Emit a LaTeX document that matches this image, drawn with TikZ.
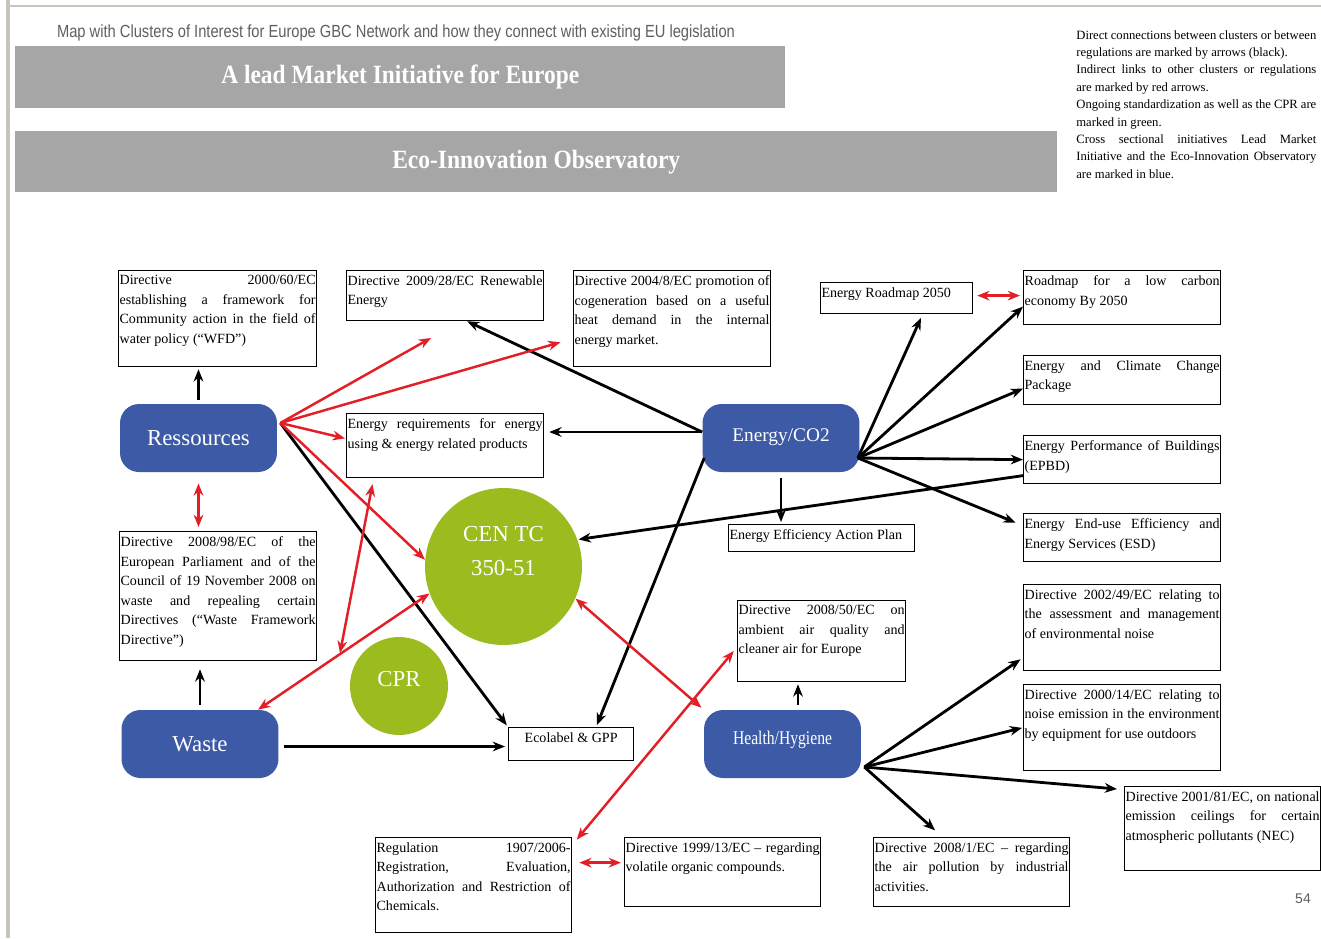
\documentclass[tikz,border=0pt]{standalone}
\usepackage{fontspec}
\setmainfont{Liberation Serif}
\newfontfamily\headfont{Liberation Sans}
\usepackage{graphicx}
\usetikzlibrary{positioning, arrows.meta}
\definecolor{clusterblue}{RGB}{60,90,165}
\definecolor{cengreen}{RGB}{155,187,30}
\definecolor{linkred}{RGB}{228,30,38}
\definecolor{bargray}{RGB}{166,166,166}
\definecolor{headgray}{RGB}{95,95,95}
\definecolor{framegray}{RGB}{200,196,186}
\newlength{\pxu}
\setlength{\pxu}{0.02cm}
\newcommand{\boxfont}{\fontsize{8}{11.1}\selectfont}
\newcommand{\regtext}[3]{\parbox[c][\dimexpr#2\pxu-10\pxu\relax][t]{\dimexpr#1\pxu-2\pxu\relax}{\boxfont #3}}
\tikzset{
	reg/.style= {
		rectangle,
		draw,
		line width=0.7pt,
		anchor=north west,
		inner xsep=\pxu,
		inner ysep=5\pxu
	},
	cluster/.style= {
		rectangle,
		rounded corners=0.38cm,
		fill=clusterblue,
		text=white,
		minimum width=3.14cm,
		minimum height=1.36cm,
		font=\fontsize{13}{15}\selectfont
	},
	standard/.style= {
		circle,
		fill=cengreen,
		text=white,
		inner sep=0,
		align=center,
		font=\fontsize{13}{19.4}\selectfont
	},
	bar/.style= {
		rectangle,
		fill=bargray,
		text=white,
		anchor=north west,
		font=\fontsize{15}{17}\selectfont\bfseries
	},
	link/.style= {
		-{Stealth[length=7pt, width=5.5pt]},
		line width=1.6pt
	},
	rlink/.style= {
		-{Stealth[length=7pt, width=5.5pt]},
		linkred,
		line width=1.4pt
	},
	rboth/.style= {
		{Stealth[length=7pt, width=5.5pt]}-{Stealth[length=7pt, width=5.5pt]},
		linkred,
		line width=1.4pt
	},
}

\begin{document}
\begin{tikzpicture}[x=0.02cm, y=-0.02cm]
	
	\fill[white] (0,0) rectangle (1321,938);
	\useasboundingbox (0,0) rectangle (1321,938);
	\draw[framegray, line width=0.08cm] (8,0) -- (8,938);
	\draw[framegray, line width=0.04cm] (8,6) -- (1321,6);
	
	\node (title)[text=headgray] at (396,33) {\resizebox{13.56cm}{\height}{\headfont\fontsize{10}{12}\selectfont Map with Clusters of Interest for Europe GBC Network and how they connect with existing EU legislation}};
	\node (lmi)[bar, minimum width=15.4cm, minimum height=1.24cm] at (15,46) {\resizebox{7.16cm}{\height}{A lead Market Initiative for Europe}};
	\node (eio)[bar, minimum width=20.84cm, minimum height=1.22cm] at (15,131) {\resizebox{5.76cm}{\height}{Eco-Innovation Observatory}};
	
	\node (legend)[anchor=north west, inner sep=0, text width=4.8cm, align=justify, font=\fontsize{7.2}{9.9}\selectfont] at (1076,30) {%
		Direct connections between clusters or between\linebreak regulations are marked by arrows (black).\par
		Indirect links to other clusters or regulations\linebreak are marked by red arrows.\par
		Ongoing standardization as well as the CPR are\linebreak marked in green.\par
		Cross sectional initiatives Lead Market\linebreak Initiative and the Eco-Innovation Observatory\linebreak are marked in blue.};
	
	\node (wfd)[reg] at (118,270) {\regtext{198}{96}{Directive 2000/60/EC\linebreak establishing a framework for\linebreak Community action in the field of\linebreak water policy (“WFD”)}};
	\node (rend)[reg] at (346,270) {\regtext{197}{50}{Directive 2009/28/EC Renewable\linebreak Energy}};
	\node (chp)[reg] at (573,270) {\regtext{197}{96}{Directive 2004/8/EC promotion of\linebreak cogeneration based on a useful\linebreak heat demand in the internal\linebreak energy market.}};
	\node (rm)[reg] at (820,282) {\regtext{152}{31}{Energy Roadmap 2050}};
	\node (lc)[reg] at (1023,270) {\regtext{197}{54}{Roadmap for a low carbon\linebreak economy By 2050}};
	\node (eccp)[reg] at (1023,355) {\regtext{197}{49}{Energy and Climate Change\linebreak Package}};
	\node (epbd)[reg] at (1023,435) {\regtext{197}{48}{Energy Performance of Buildings\linebreak (EPBD)}};
	\node (esd)[reg] at (1023,513) {\regtext{197}{48}{Energy End-use Efficiency and\linebreak Energy Services (ESD)}};
	\node (erp)[reg] at (346,413) {\regtext{197}{64}{Energy requirements for energy\linebreak using \& energy related products}};
	\node (eeap)[reg] at (728,524) {\regtext{186}{27}{Energy Efficiency Action Plan}};
	\node (wfw)[reg] at (119,531) {\regtext{197}{129}{Directive 2008/98/EC of the\linebreak European Parliament and of the\linebreak Council of 19 November 2008 on\linebreak waste and repealing certain\linebreak Directives (“Waste Framework\linebreak Directive”)}};
	\node (air)[reg] at (737,600) {\regtext{168}{81}{Directive 2008/50/EC on\linebreak ambient air quality and\linebreak cleaner air for Europe}};
	\node (noisea)[reg] at (1023,584) {\regtext{197}{86}{Directive 2002/49/EC relating to\linebreak the assessment and management\linebreak of environmental noise}};
	\node (noiseb)[reg] at (1023,684) {\regtext{197}{86}{Directive 2000/14/EC relating to\linebreak noise emission in the environment\linebreak by equipment for use outdoors}};
	\node (nec)[reg] at (1124,786) {\regtext{196}{84}{Directive 2001/81/EC, on national\linebreak emission ceilings for certain\linebreak atmospheric pollutants (NEC)}};
	\node (eco)[reg] at (508,727) {\regtext{125}{33}{\centering Ecolabel \& GPP}};
	\node (reach)[reg] at (375,837) {\regtext{196}{95}{Regulation 1907/2006-\linebreak Registration, Evaluation,\linebreak Authorization and Restriction of\linebreak Chemicals.}};
	\node (voc)[reg] at (624,837) {\regtext{196}{69}{Directive 1999/13/EC – regarding\linebreak volatile organic compounds.}};
	\node (ippc)[reg] at (873,837) {\regtext{196}{69}{Directive 2008/1/EC – regarding\linebreak the air pollution by industrial\linebreak activities.}};
	
	\node (ress)[cluster] at (198.5,438) {Ressources};
	\node (energy)[cluster, font=\fontsize{11}{13}\selectfont] at (781,438) {\raisebox{0.1cm}{Energy/CO2}};
	\node (waste)[cluster] at (200,744) {Waste};
	\node (hh)[cluster] at (782.5,744) {\raisebox{0.24cm}{\resizebox{1.98cm}{\height}{\fontsize{11}{13}\selectfont Health/Hygiene}}};
	
	\node (cen)[standard, minimum size=3.14cm] at (503.5,566.5) {CEN TC\\350-51\\[-0.28cm]\strut};
	\node (cpr)[standard, minimum size=1.96cm] at (399,686) {\raisebox{0.28cm}{CPR}};
	
	\node (page)[text=headgray, font=\headfont\fontsize{8}{10}\selectfont] at (1303,899) {54};
	
	\coordinate (ressout) at ([xshift=0.06cm, yshift=0.3cm]ress.east);
	\coordinate (enw) at ([yshift=0.12cm]energy.west);
	\coordinate (ensw) at ([xshift=0.04cm, yshift=-0.4cm]energy.west);
	\coordinate (enfan) at ([xshift=-0.04cm, yshift=-0.4cm]energy.east);
	\coordinate (hhfan) at ([xshift=0.06cm, yshift=-0.46cm]hh.east);
	\coordinate (hhtop) at ([xshift=0.31cm]hh.north);
	\coordinate (wasteout) at ([yshift=-0.05cm]waste.east);
	\coordinate (reachout) at ([yshift=0.45cm]reach.east);
	\coordinate (rmout) at ([yshift=0.05cm]rm.east);
	\coordinate (cprlink) at (340,653);
	
	\draw[link, shorten <=0.08cm, shorten >=0.04cm] (ress.north) -- (ress.north |- wfd.south);
	\draw[link, shorten <=0.1cm, shorten >=0.16cm] (waste.north) -- (waste.north |- wfw.south);
	\draw[link, shorten >=0.04cm] (ressout) -- (eco.north west);
	\draw[link, shorten <=0.1cm, shorten >=0.06cm] (wasteout) -- (wasteout -| eco.west);
	\draw[link] (enw) -- ([xshift=0.44cm]rend.south);
	\draw[link, shorten >=0.1cm] (enw) -- (enw -| erp.east);
	\draw[link, shorten >=0.04cm] (ensw) -- ([xshift=0.5cm]eco.north);
	\draw[link, shorten <=0.12cm, shorten >=0.04cm] (energy.south) -- (energy.south |- eeap.north);
	\draw[link, shorten >=0.08cm] (enfan) -- ([xshift=0.52cm]rm.south);
	\draw[link] (enfan) -- ([yshift=-0.18cm]lc.west);
	\draw[link] (enfan) -- ([yshift=-0.17cm]eccp.west);
	\draw[link] (enfan) -- (epbd.west);
	\draw[link, shorten >=0.16cm] (enfan) -- ([yshift=0.24cm]esd.west);
	\draw[link, shorten >=0.02cm] ([yshift=-0.32cm]epbd.west) -- (cen.20);
	\draw[link, shorten <=0.1cm, shorten >=0.04cm] (hhtop) -- (hhtop |- air.south);
	\draw[link, shorten >=0.06cm] (hhfan) -- ([yshift=-0.6cm]noisea.west);
	\draw[link, shorten >=0.02cm] (hhfan) -- (noiseb.west);
	\draw[link, shorten >=0.14cm] (hhfan) -- ([yshift=0.78cm]nec.west);
	\draw[link, shorten >=0.2cm] (hhfan) -- ([xshift=-0.58cm]ippc.north);
	
	\draw[rlink, shorten >=0.68cm] (ressout) -- ([xshift=0.31cm]rend.south);
	\draw[rlink, shorten >=0.26cm] (ressout) -- ([yshift=-0.4cm]chp.west);
	\draw[rlink, shorten >=0.02cm] (ressout) -- ([yshift=0.14cm]erp.west);
	\draw[rlink] (ressout) -- (cen.175);
	\draw[rboth, shorten <=0.22cm, shorten >=0.08cm] (ress.south) -- (ress.south |- wfw.north);
	\draw[rboth, shorten <=0.12cm] ([xshift=-1.43cm]erp.south) -- (cprlink);
	\draw[rboth] ([xshift=1.16cm]waste.north) -- (cen.200);
	\draw[rboth, shorten >=0.06cm] (cen.-24) -- (hh.north west);
	\draw[rboth, shorten <=0.14cm, shorten >=0.1cm] ([yshift=-0.16cm]reach.north east) -- ([yshift=-0.12cm]air.west);
	\draw[rboth, shorten <=0.14cm, shorten >=0.06cm] (reachout) -- (reachout -| voc.west);
	\draw[rboth, shorten <=0.08cm, shorten >=0.06cm] (rmout) -- (rmout -| lc.west);
	
\end{tikzpicture}
\end{document}
